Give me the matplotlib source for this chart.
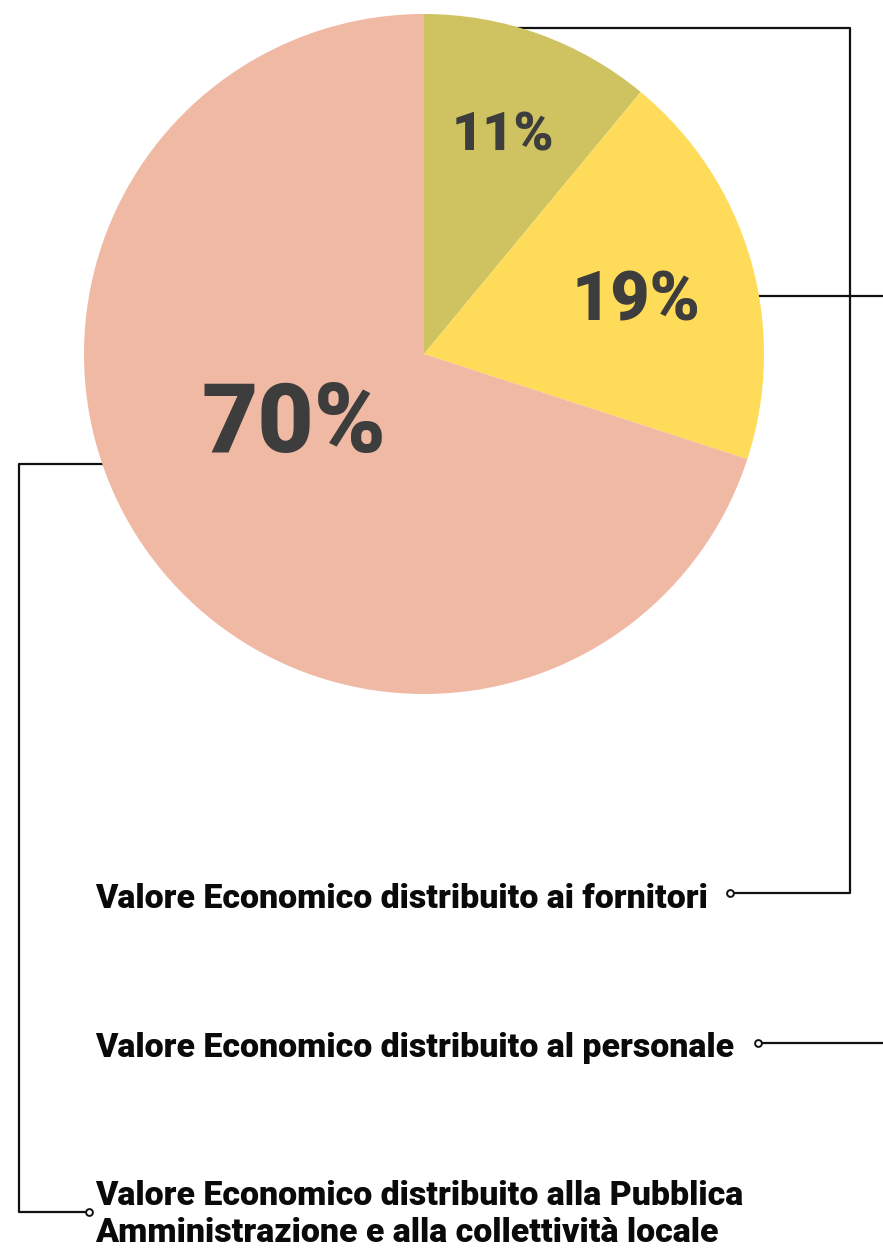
import matplotlib.pyplot as plt

shares = [11, 19, 70]
colors = ['#CEC360', '#FEDC5A', '#F0B9A4']
pct_labels = ['11%', '19%', '70%']
labels = [
    'Valore Economico distribuito ai fornitori',
    'Valore Economico distribuito al personale',
    'Valore Economico distribuito alla Pubblica\nAmministrazione e alla collettività locale',
]

plt.rcParams['font.family'] = ['Roboto', 'Lato', 'DejaVu Sans']

fig = plt.figure(figsize=(8.83, 12.49), dpi=100)
ax = fig.add_axes([0, 0, 1, 1])

# leader lines (drawn under the pie)
lw = 1.6
ax.plot([500, 850, 850, 730], [28, 28, 893, 893], color='#111111', lw=lw, zorder=1)
ax.plot([700, 883], [296, 296], color='#111111', lw=lw, zorder=1)
ax.plot([883, 758], [1043, 1043], color='#111111', lw=lw, zorder=1)
ax.plot([150, 19, 19, 89], [464, 464, 1212, 1212], color='#111111', lw=lw, zorder=1)
ax.scatter([730, 758, 89], [893, 1043, 1212], s=24, facecolor='white',
           edgecolor='#111111', linewidth=1.4, zorder=3)

# y axis is inverted, so start at -90 and go counterclockwise in data space
wedges, _ = ax.pie(shares, colors=colors, startangle=-90, counterclock=True,
                   center=(424, 354), radius=340, wedgeprops=dict(linewidth=0))
for w in wedges:
    w.set_zorder(2)

ax.text(503, 136, pct_labels[0], fontsize=39, fontweight='black', color='#3d3d3d',
        ha='center', va='center', zorder=4)
ax.text(636, 302, pct_labels[1], fontsize=49, fontweight='black', color='#3d3d3d',
        ha='center', va='center', zorder=4)
ax.text(294, 426, pct_labels[2], fontsize=70, fontweight='black', color='#3d3d3d',
        ha='center', va='center', zorder=4)

fs = 24.4
ax.text(95, 908, labels[0], fontsize=fs, fontweight='black', color='#0a0a0a',
        ha='left', va='baseline')
ax.text(95, 1057, labels[1], fontsize=fs, fontweight='black', color='#0a0a0a',
        ha='left', va='baseline')
ax.text(95, 1205, labels[2].split('\n')[0], fontsize=fs, fontweight='black',
        color='#0a0a0a', ha='left', va='baseline')
ax.text(95, 1242, labels[2].split('\n')[1], fontsize=fs, fontweight='black',
        color='#0a0a0a', ha='left', va='baseline')

ax.set_xlim(0, 883)
ax.set_ylim(1249, 0)
ax.set_aspect('auto')
ax.axis('off')

fig.savefig('out.png', dpi=100)
